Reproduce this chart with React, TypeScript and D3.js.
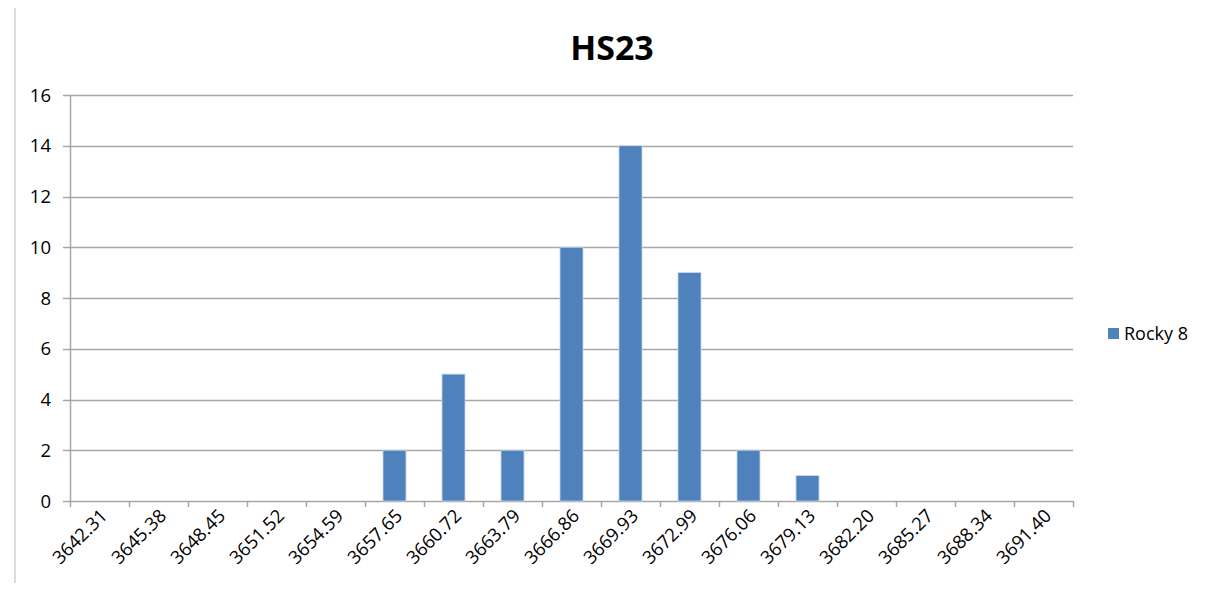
import { useEffect, useRef } from "react"
import * as d3 from "d3"

// bin labels and counts
const categories = [
  "3642.31", "3645.38", "3648.45", "3651.52", "3654.59", "3657.65",
  "3660.72", "3663.79", "3666.86", "3669.93", "3672.99", "3676.06",
  "3679.13", "3682.20", "3685.27", "3688.34", "3691.40",
]
const counts = [0, 0, 0, 0, 0, 2, 5, 2, 10, 14, 9, 2, 1, 0, 0, 0, 0]
const yTicks = [0, 2, 4, 6, 8, 10, 12, 14, 16]
const seriesName = "Rocky 8"
const chartTitle = "HS23"

export default function App() {
  const svgRef = useRef<SVGSVGElement>(null)

  useEffect(() => {
    if (!svgRef.current) return
    const width = 1215
    const height = 591
    const margin = { top: 95, right: 142, bottom: 90, left: 70 }
    const innerW = width - margin.left - margin.right
    const innerH = height - margin.top - margin.bottom
    const font = "'Open Sans', 'Liberation Sans', sans-serif"
    const gridColor = "#a6a6a6"
    const barColor = "#4f81bd"

    const svg = d3.select(svgRef.current)
    svg.selectAll("*").remove()
    svg.style("font-family", font)

    // outer frame
    svg.append("rect")
      .attr("x", 15).attr("y", 6)
      .attr("width", 1196).attr("height", 600)
      .attr("fill", "#fff")
      .attr("stroke", "#dcdcdc")
      .attr("stroke-width", 2)

    svg.append("text")
      .attr("x", 612).attr("y", 60)
      .attr("text-anchor", "middle")
      .attr("font-size", "34px")
      .attr("font-weight", "700")
      .attr("fill", "#000")
      .text(chartTitle)

    const g = svg.append("g").attr("transform", `translate(${margin.left},${margin.top})`)

    const x = d3.scaleBand<string>().domain(categories).range([0, innerW]).padding(0)
    const y = d3.scaleLinear().domain([0, 16]).range([innerH, 0])

    // gridlines
    g.selectAll("line.grid")
      .data(yTicks)
      .join("line")
      .attr("class", "grid")
      .attr("x1", -7).attr("x2", innerW)
      .attr("y1", d => Math.round(y(d)) + 0.5)
      .attr("y2", d => Math.round(y(d)) + 0.5)
      .attr("stroke", gridColor)
      .attr("stroke-width", 1.5)

    // y labels
    g.selectAll("text.ylab")
      .data(yTicks)
      .join("text")
      .attr("class", "ylab")
      .attr("x", -19)
      .attr("y", d => y(d) + 6.5)
      .attr("text-anchor", "end")
      .attr("font-size", "18.5px")
      .attr("fill", "#000")
      .text(d => d)

    // y axis line
    g.append("line")
      .attr("x1", 0.5).attr("x2", 0.5)
      .attr("y1", 0).attr("y2", innerH)
      .attr("stroke", gridColor)
      .attr("stroke-width", 1.5)

    // x tick marks at category boundaries
    const bounds = categories.map(c => x(c) || 0).concat([innerW])
    g.selectAll("line.xtick")
      .data(bounds)
      .join("line")
      .attr("class", "xtick")
      .attr("x1", d => Math.round(d) + 0.5).attr("x2", d => Math.round(d) + 0.5)
      .attr("y1", innerH).attr("y2", innerH + 6)
      .attr("stroke", gridColor)
      .attr("stroke-width", 1.5)

    // bars
    const bw = x.bandwidth() * 0.39
    g.selectAll("rect.bar")
      .data(counts.map((v, i) => ({ v, c: categories[i] })).filter(d => d.v > 0))
      .join("rect")
      .attr("class", "bar")
      .attr("x", d => (x(d.c) || 0) + x.bandwidth() / 2 - bw / 2)
      .attr("y", d => y(d.v))
      .attr("width", bw)
      .attr("height", d => innerH - y(d.v))
      .attr("fill", barColor)
      .attr("stroke", "#c6d6ea")
      .attr("stroke-width", 0.8)

    // x labels rotated
    g.selectAll("text.xlab")
      .data(categories)
      .join("text")
      .attr("class", "xlab")
      .attr("text-anchor", "end")
      .attr("font-size", "18.5px")
      .attr("fill", "#000")
      .attr("transform", d => `translate(${(x(d) || 0) + x.bandwidth() / 2 + 9},${innerH + 16}) rotate(-45)`)
      .text(d => d)

    // legend
    const lg = svg.append("g").attr("transform", "translate(1108,328)")
    lg.append("rect").attr("width", 11).attr("height", 11).attr("fill", barColor)
    lg.append("text")
      .attr("x", 16).attr("y", 12)
      .attr("font-size", "18px")
      .attr("fill", "#000")
      .text(seriesName)
  }, [])

  return <svg ref={svgRef} width={1215} height={591} style={{ display: "block", margin: -8 }} />
}
